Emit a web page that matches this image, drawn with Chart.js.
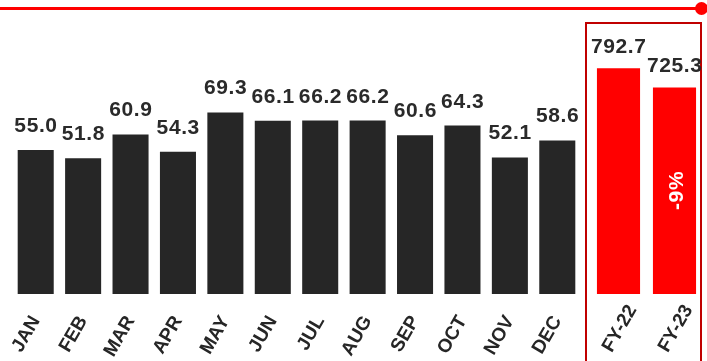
<!DOCTYPE html>
<html>
<head>
<meta charset="utf-8">
<script src="https://cdn.jsdelivr.net/npm/chart.js@4/dist/chart.umd.min.js"></script>
<style>
  body { margin: 0; background: #fff; }
  #wrap { position: relative; width: 707px; height: 361px; overflow: hidden; }
  #topLine { position: absolute; left: 0; top: 7px; width: 701px; height: 3px; background: #ff0000; }
  #topDot { position: absolute; left: 695px; top: 2px; width: 13px; height: 13px; border-radius: 50%; background: #ff0000; }
  #fyBox { position: absolute; left: 585px; top: 22px; width: 117px; height: 400px; border: 2px solid #c00000; box-sizing: border-box; }
  canvas { position: absolute; top: 0; }
  #monthChart { left: 0; }
  #fyChart { left: 585px; }
</style>
</head>
<body>
<div id="wrap">
  <div id="topLine"></div>
  <div id="topDot"></div>
  <div id="fyBox"></div>
  <canvas id="monthChart" width="585" height="361"></canvas>
  <canvas id="fyChart" width="122" height="361"></canvas>
</div>
<script>
const months = ['JAN', 'FEB', 'MAR', 'APR', 'MAY', 'JUN', 'JUL', 'AUG', 'SEP', 'OCT', 'NOV', 'DEC'];
const monthValues = [55.0, 51.8, 60.9, 54.3, 69.3, 66.1, 66.2, 66.2, 60.6, 64.3, 52.1, 58.6];
const years = ['FY-22', 'FY-23'];
const yearValues = [792.7, 725.3];
const changeLabel = '-9%';

const DARK = '#262626';
const RED = '#ff0000';
const FONT = '"Liberation Sans", Arial, sans-serif';

// draws the numbers above each bar
const valueLabels = {
    id: 'valueLabels',
    afterDatasetsDraw(chart, args, opts) {
        const ctx = chart.ctx;
        const values = chart.data.datasets[0].data;
        ctx.save();
        ctx.font = 'bold 21px ' + FONT;
        ctx.letterSpacing = '0.6px';
        ctx.fillStyle = '#2a2a2a';
        ctx.textAlign = 'center';
        ctx.textBaseline = 'alphabetic';
        chart.getDatasetMeta(0).data.forEach((bar, i) => {
            ctx.fillText(values[i].toFixed(1), bar.x + 0.3, bar.y - opts.gap);
        });
        ctx.restore();
    }
};

// white rotated change label inside the last bar
const changeBadge = {
    id: 'changeBadge',
    afterDatasetsDraw(chart) {
        const ctx = chart.ctx;
        const bars = chart.getDatasetMeta(0).data;
        const bar = bars[bars.length - 1];
        ctx.save();
        ctx.translate(bar.x, (bar.y + bar.base) / 2);
        ctx.rotate(-Math.PI / 2);
        ctx.font = 'bold 21px ' + FONT;
        ctx.letterSpacing = '0.6px';
        ctx.fillStyle = '#ffffff';
        ctx.textAlign = 'center';
        ctx.textBaseline = 'middle';
        ctx.fillText(changeLabel, 0.3, 3);
        ctx.restore();
    }
};

function baseOptions(yMax, padding, gap, tickPad, tickShift) {
    return {
        responsive: false,
        animation: false,
        layout: { padding },
        plugins: {
            legend: { display: false },
            tooltip: { enabled: false },
            valueLabels: { gap }
        },
        scales: {
            x: {
                grid: { display: false, drawTicks: false },
                border: { display: false },
                ticks: {
                    color: DARK,
                    font: { family: FONT, size: 19, weight: 'bold' },
                    minRotation: 60,
                    maxRotation: 60,
                    padding: tickPad,
                    labelOffset: tickShift
                },
                afterFit(scale) {
                    scale.height = 67;
                    scale.paddingLeft = 0;
                    scale.paddingRight = 0;
                }
            },
            y: {
                display: false,
                min: 0,
                max: yMax
            }
        }
    };
}

new Chart(document.getElementById('monthChart'), {
    type: 'bar',
    data: {
        labels: months,
        datasets: [{
            data: monthValues,
            backgroundColor: DARK,
            categoryPercentage: 0.76,
            barPercentage: 1
        }]
    },
    options: baseOptions(100, { left: 12, right: 4, top: 32, bottom: 0 }, 18, 18, 0),
    plugins: [valueLabels]
});

new Chart(document.getElementById('fyChart'), {
    type: 'bar',
    data: {
        labels: years,
        datasets: [{
            data: yearValues,
            backgroundColor: RED,
            categoryPercentage: 0.77,
            barPercentage: 1
        }]
    },
    options: baseOptions(920, { left: 5.5, right: 4.5, top: 32, bottom: 0 }, 15, 7, 14),
    plugins: [valueLabels, changeBadge]
});
</script>
</body>
</html>
